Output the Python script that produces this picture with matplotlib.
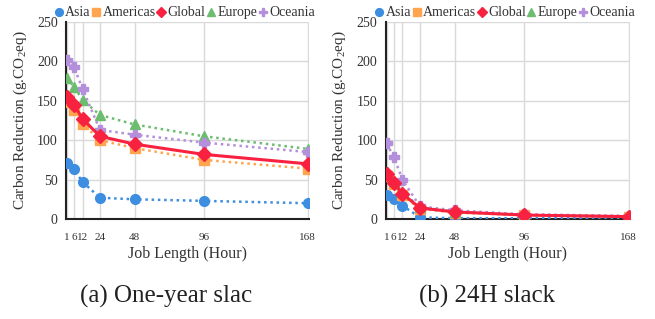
import matplotlib
matplotlib.use("Agg")
import matplotlib.pyplot as plt

plt.rcParams['font.family'] = ['Liberation Serif', 'DejaVu Serif']
plt.rcParams['mathtext.fontset'] = 'custom'
plt.rcParams['mathtext.rm'] = 'Liberation Serif'

hours = [1, 6, 12, 24, 48, 96, 168]
xtick_labels = ["1", "6", "12", "24", "48", "96", "168"]
series_names = ["Asia", "Americas", "Global", "Europe", "Oceania"]

# (a) One-year slack
a_asia = [71, 63, 47, 27, 25, 23, 20]
a_americas = [148, 138, 121, 100, 90, 75, 64]
a_global = [155, 145, 127, 105, 95, 82, 70]
a_europe = [179, 168, 151, 132, 120, 105, 89]
a_oceania = [202, 193, 165, 113, 107, 97, 85]

# (b) 24H slack
b_asia = [31, 26, 17, 2, 1, 1, 1]
b_americas = [55, 44, 30, 13, 8, 5, 3]
b_global = [57, 46, 32, 14, 9, 5, 3]
b_europe = [60, 48, 34, 15, 9, 5, 3]
b_oceania = [96, 79, 50, 16, 11, 6, 4]

captions = ["(a) One-year slac", "(b) 24H slack"]

colors = {"Asia": "#3d8ee0", "Americas": "#ffa54f", "Global": "#f8213f",
          "Europe": "#6cbd6f", "Oceania": "#b48fdb"}
markers = {"Asia": "o", "Americas": "s", "Global": "D", "Europe": "^", "Oceania": "P"}

fig = plt.figure(figsize=(6.55, 3.19), dpi=100)
axes_pos = [[0.1008, 0.3135, 0.371, 0.6175], [0.589, 0.3135, 0.373, 0.6175]]
data_sets = [
    [a_asia, a_americas, a_global, a_europe, a_oceania],
    [b_asia, b_americas, b_global, b_europe, b_oceania],
]
caption_x = [166 / 655, 487 / 655]

for pos, data, cap, cx in zip(axes_pos, data_sets, captions, caption_x):
    ax = fig.add_axes(pos)
    for name, vals in zip(series_names, data):
        if name == "Global":
            ax.plot(hours, vals, color=colors[name], lw=2.2, ls='-', marker=markers[name],
                    ms=7, zorder=5, label=name)
        else:
            ax.plot(hours, vals, color=colors[name], lw=1.8, ls=(0, (1, 1.5)),
                    marker=markers[name], ms=7 if name != "Europe" else 7.5,
                    zorder=3, label=name)
    ax.set_xlim(0.5, 169)
    ax.set_ylim(0, 250)
    ax.set_xticks(hours)
    ax.set_xticklabels(xtick_labels, fontsize=8)
    ax.set_yticks([0, 50, 100, 150, 200, 250])
    ax.tick_params(axis='both', length=0, colors='#333333')
    ax.tick_params(axis='y', labelsize=10, pad=6)
    ax.tick_params(axis='x', pad=10)
    ax.grid(True, color='#d9d9d9', lw=1.0)
    ax.set_axisbelow(True)
    for s in ['top', 'right']:
        ax.spines[s].set_visible(False)
    ax.spines['left'].set_color('#222222')
    ax.spines['left'].set_linewidth(1.5)
    ax.spines['bottom'].set_color('#222222')
    ax.spines['bottom'].set_linewidth(1.5)
    ax.set_xlabel("Job Length (Hour)", fontsize=11.5, color='#333333', labelpad=3)
    ax.set_ylabel("Carbon Reduction (g.CO$_2$eq)", fontsize=11, color='#333333', labelpad=6)
    leg = ax.legend(loc='center', bbox_to_anchor=(0.49, 1.046), ncol=5, frameon=False,
                    fontsize=10, handlelength=0.5, handletextpad=0.2, columnspacing=0.15,
                    borderaxespad=0, borderpad=0, markerscale=0.8)
    for h in leg.legend_handles:
        h.set_linestyle('none')
    for t in leg.get_texts():
        t.set_color('#333333')
    fig.text(cx, 0.07, cap, ha='center', va='center', fontsize=18, color='#222222')

fig.savefig("out.png", dpi=100)
